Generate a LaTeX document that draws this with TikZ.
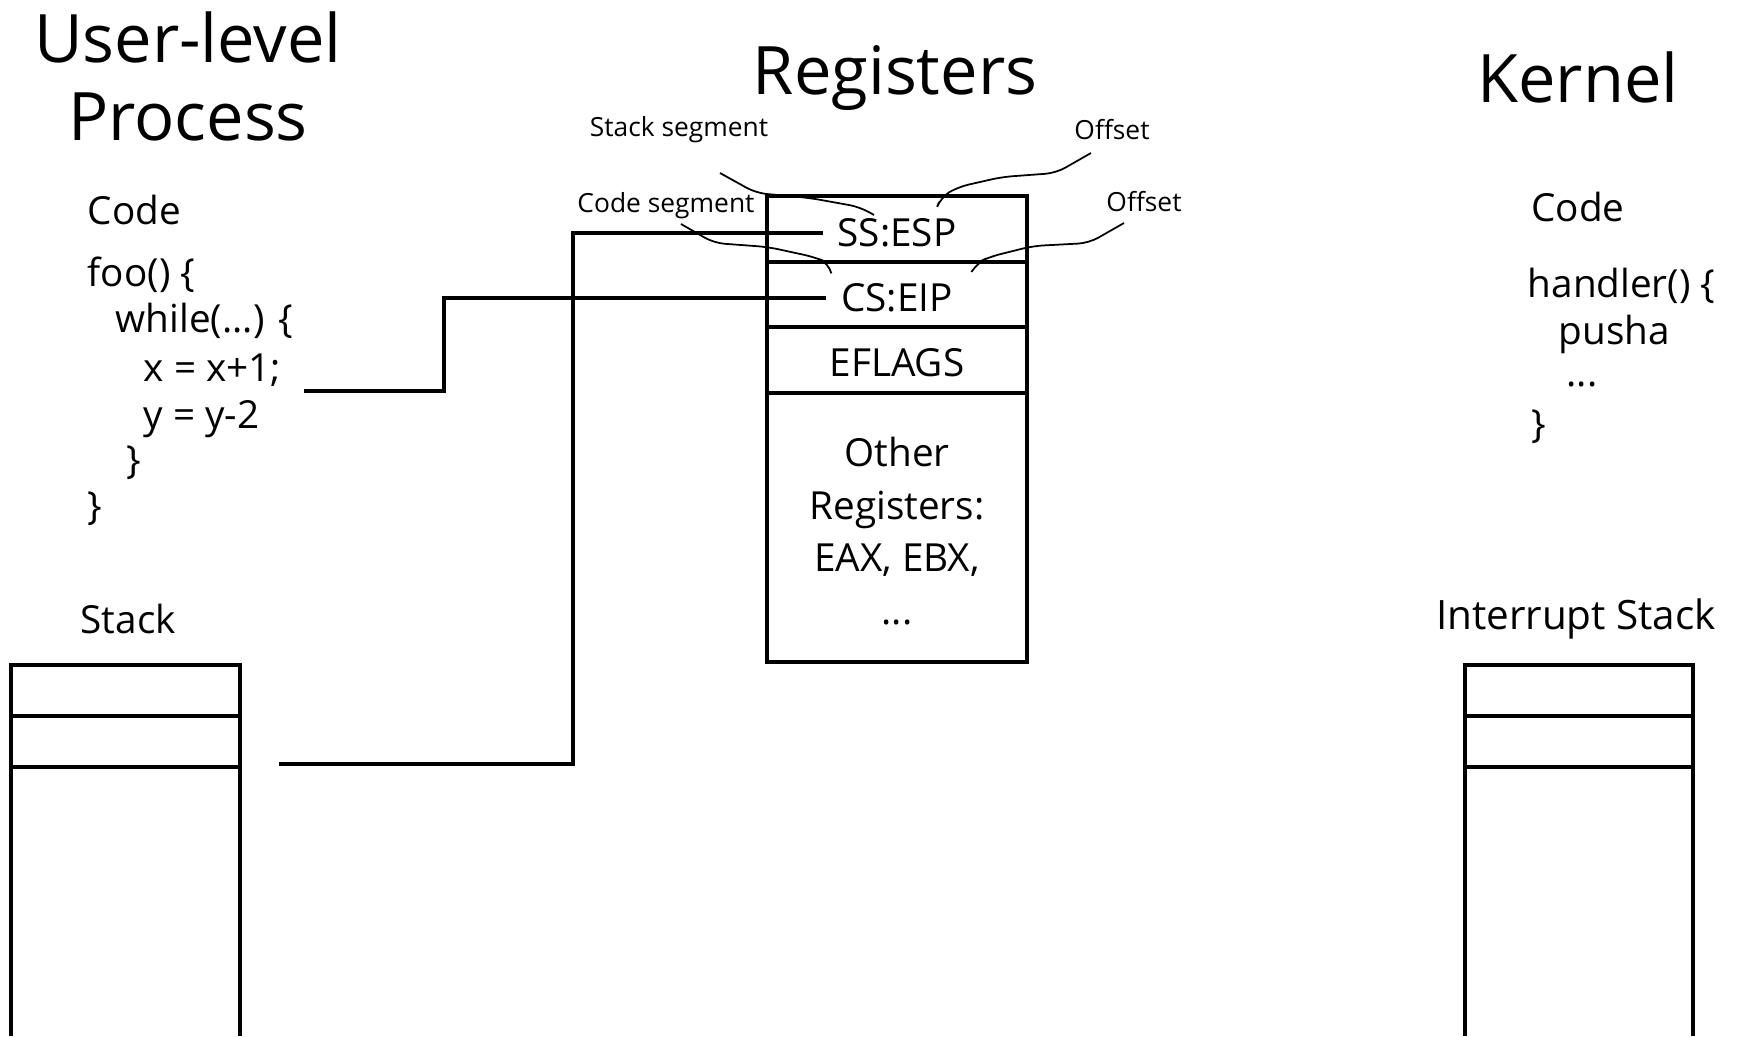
\documentclass[tikz,border=0pt]{standalone}
\usepackage{fontspec}
\setmainfont{Open Sans}
\usepackage{tikz}

\begin{document}
\begin{tikzpicture}[x=0.01cm, y=-0.01cm,
  every node/.style={inner sep=2pt},
  title/.style={font=\fontsize{19}{23}\selectfont},
  txt/.style={font=\fontsize{11}{15}\selectfont},
  small/.style={font=\fontsize{7.5}{9}\selectfont},
  wire/.style={line width=1pt},
  leader/.style={line width=0.5pt, rounded corners=3}]

\useasboundingbox (0,0) rectangle (1737,1036);

% Titles
\node[title] (tuser) at (188, 37) {User-level};
\node[title] (tproc) at (188, 117) {Process};
\node[title] (treg) at (895, 78) {Registers};
\node[title] (tkern) at (1578, 77) {Kernel};

% (a) User-level process: code
\node[txt, anchor=west] (ucode) at (80, 210) {Code};
\node[txt, anchor=west] (l1) at (80, 275) {foo() \{};
\node[txt, anchor=west] (l2) at (108, 321) {while(...) \{};
\node[txt, anchor=west] (l3) at (136, 370) {x = x+1;};
\node[txt, anchor=west] (l4) at (136, 419) {y = y-2};
\node[txt, anchor=west] (l5) at (119, 463) {\}};
\node[txt, anchor=west] (l6) at (80, 509) {\}};

% User stack
\node[txt, anchor=west] (ustack) at (73, 619) {Stack};
\draw[wire] (11,1036) -- (11,665) -- (240,665) -- (240,1036);
\draw[wire] (11,716) -- (240,716);
\draw[wire] (11,767) -- (240,767);

% (b) Registers
\draw[wire] (767,196) rectangle (1027,662);
\draw[wire] (767,262) -- (1027,262);
\draw[wire] (767,327) -- (1027,327);
\draw[wire] (767,393) -- (1027,393);
\node[txt, inner sep=4pt] (regss) at (897, 233) {SS:ESP};
\node[txt, inner sep=4pt] (regcs) at (897, 298) {CS:EIP};
\node[txt] (regfl) at (897, 363) {EFLAGS};
\node[txt, align=center] (regoth) at (897, 531) {Other\\Registers:\\EAX, EBX,\\...};

% Labels on the segment registers
\node[small] (lblss) at (679, 130) {Stack segment};
\node[small] (lblssoff) at (1112, 130) {Offset};
\node[small] (lblcs) at (666, 206) {Code segment};
\node[small] (lblcsoff) at (1144, 202) {Offset};

\draw[leader] (720,173) -- (756,193) -- (810,198) -- (860,207) -- (874,215);
\draw[leader] (1091,153) -- (1056,173) -- (1002,177) -- (958,187) -- (941,197) -- (939,202);
\draw[leader] (681,224) -- (714,243) -- (768,247) -- (814,257) -- (829,263) -- (831,272);
\draw[leader] (1124,223) -- (1089,243) -- (1033,246) -- (989,257) -- (977,263) -- (972,271);

% Pointers into the process
\coordinate (spend) at (279,764);
\coordinate (ipend) at (304,391);
\draw[wire] (regss.west) -| (573,764) -- (spend);
\draw[wire] (regcs.west) -| (444,391) -- (ipend);

% (c) Kernel: code
\node[txt] (kcode) at (1578, 207) {Code};
\node[txt, anchor=west] (k1) at (1520, 286) {handler() \{};
\node[txt, anchor=west] (k2) at (1551, 334) {pusha};
\node[txt] (k3) at (1582, 384) {...};
\node[txt, anchor=west] (k4) at (1524, 427) {\}};

% Interrupt stack
\node[txt, font=\fontsize{11.5}{15}\selectfont] (kstack) at (1576, 619) {Interrupt Stack};
\draw[wire] (1465,1036) -- (1465,665) -- (1693,665) -- (1693,1036);
\draw[wire] (1465,716) -- (1693,716);
\draw[wire] (1465,767) -- (1693,767);

\end{tikzpicture}
\end{document}
